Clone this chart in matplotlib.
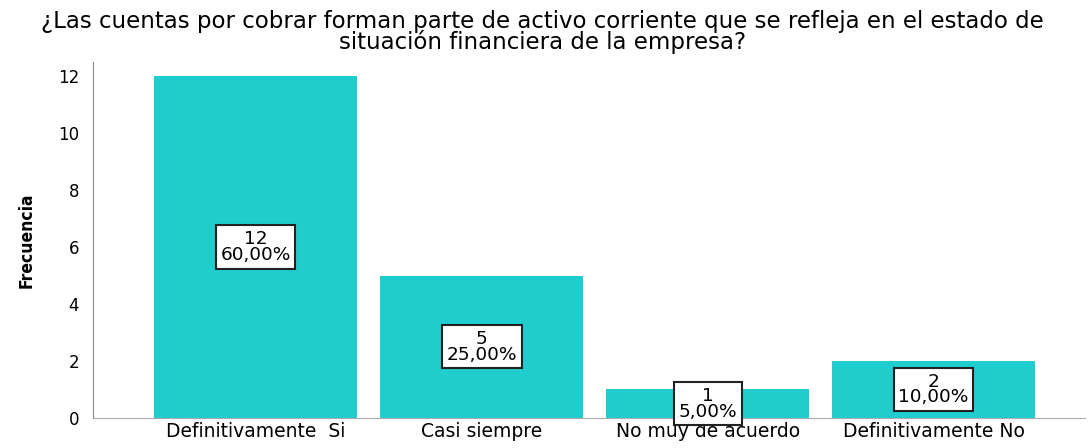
import matplotlib.pyplot as plt

categories = ['Definitivamente  Si', 'Casi siempre', 'No muy de acuerdo', 'Definitivamente No']
counts = [12, 5, 1, 2]
percents = ['60,00%', '25,00%', '5,00%', '10,00%']

plt.rcParams['font.family'] = ['DejaVu Sans']

fig = plt.figure(figsize=(10.89, 4.48), dpi=100)
ax = fig.add_axes([0.0854, 0.067, 0.9109, 0.795])

x = range(len(categories))
ax.bar(x, counts, width=0.9, color='#20CDCD', zorder=2)

for i, (c, p) in enumerate(zip(counts, percents)):
    ax.text(i, c / 2, f'{c}\n{p}', ha='center', va='center', fontsize=13.3,
            linespacing=0.85, zorder=3,
            bbox=dict(boxstyle='square,pad=0.25', fc='white', ec='#222222', lw=1.5))

ax.set_xlim(-0.72, 3.67)
ax.set_ylim(0, 12.5)
ax.set_yticks([0, 2, 4, 6, 8, 10, 12])
ax.set_xticks(list(x))
ax.set_xticklabels(categories, fontsize=13.5)
ax.tick_params(axis='y', length=0, labelsize=12, pad=10)
ax.tick_params(axis='x', length=0, pad=3)

for s in ['top', 'right']:
    ax.spines[s].set_visible(False)
ax.spines['left'].set_color('#888888')
ax.spines['bottom'].set_color('#aaaaaa')

ax.set_ylabel('Frecuencia', fontsize=12.5, fontweight='bold', fontstretch='condensed',
              labelpad=16)
fig.suptitle('¿Las cuentas por cobrar forman parte de activo corriente que se refleja en el estado de\n'
             'situación financiera de la empresa?', fontsize=16.5, x=0.498,
             y=0.978, linespacing=0.85)

fig.savefig('out.png', dpi=100)
